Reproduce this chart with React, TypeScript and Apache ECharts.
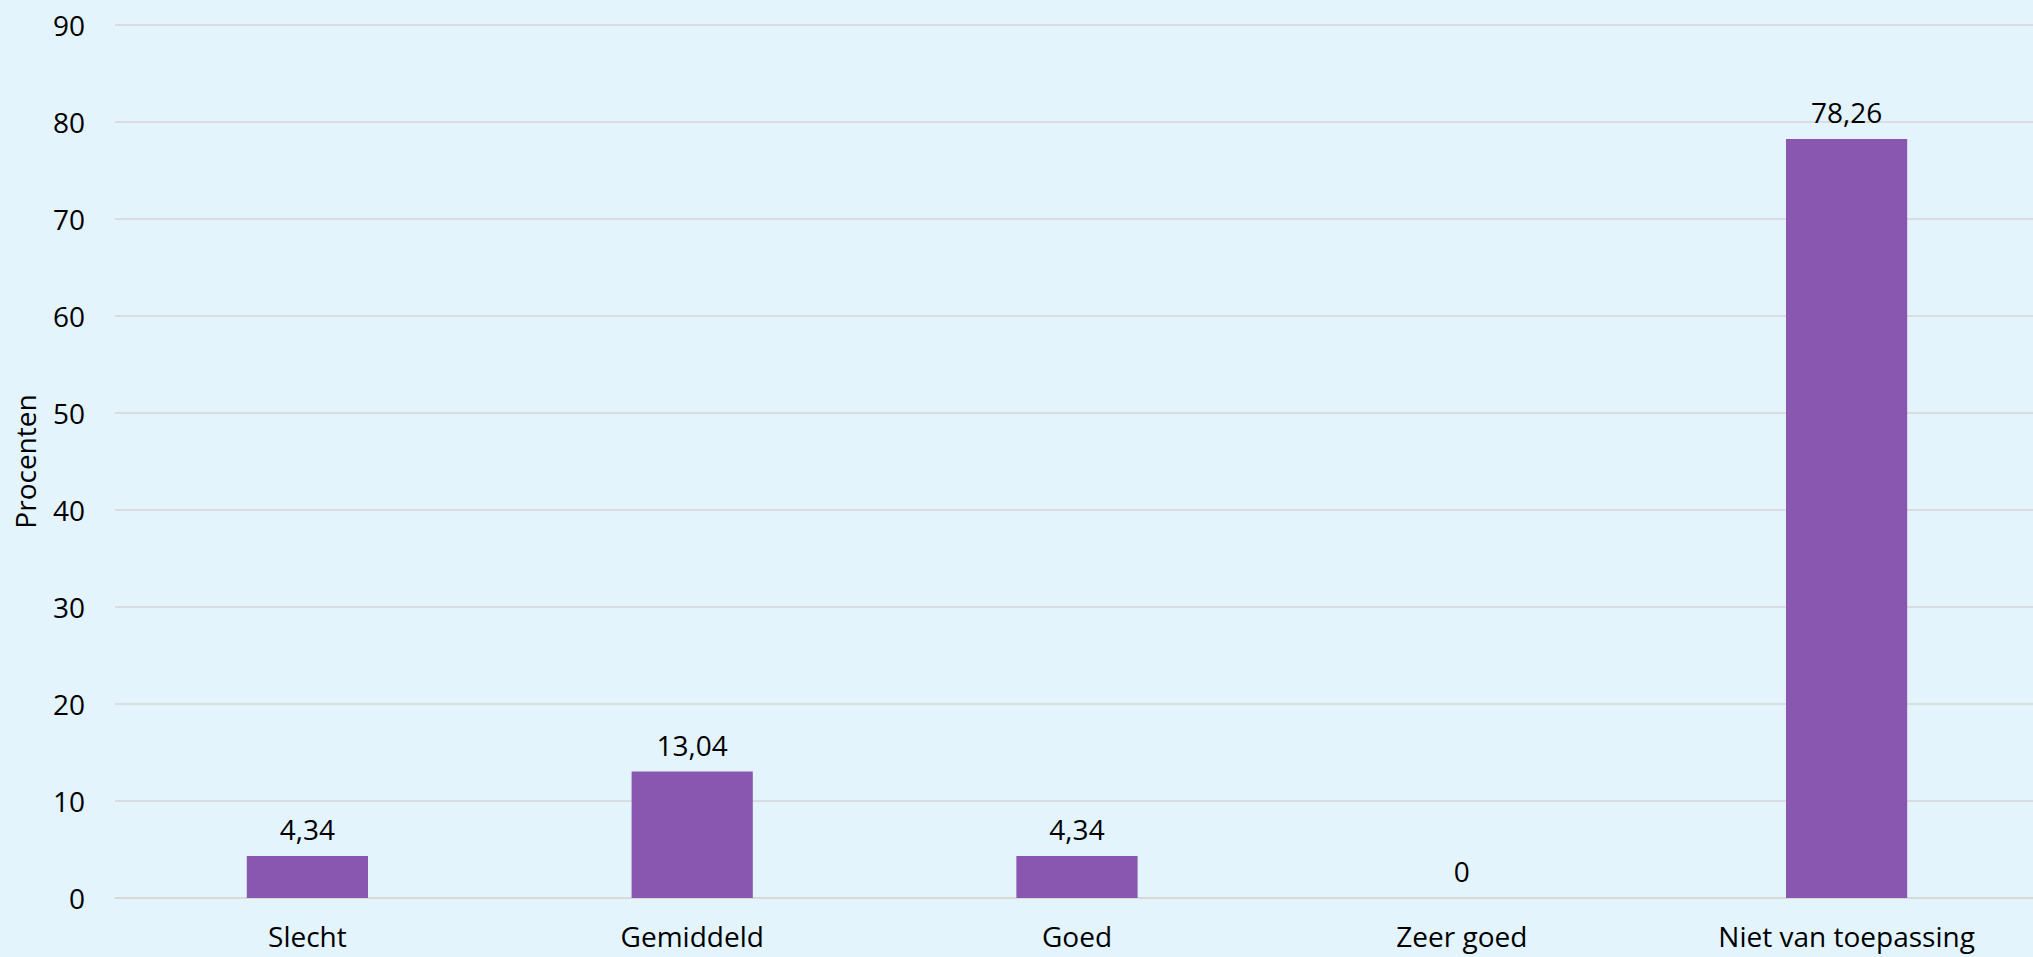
import React, { useEffect, useRef } from "react";
import * as echarts from "echarts";

const categories = ["Slecht", "Gemiddeld", "Goed", "Zeer goed", "Niet van toepassing"];
const percentages = [4.34, 13.04, 4.34, 0, 78.26];
const yAxisName = "Procenten";

const FONT = "'Open Sans', 'Noto Sans', sans-serif";
const TEXT = "#000000";

export default function App() {
  const ref = useRef<HTMLDivElement>(null);

  useEffect(() => {
    document.body.style.margin = "0";
    const chart = echarts.init(ref.current!, undefined, { renderer: "svg" });
    chart.setOption({
      animation: false,
      backgroundColor: "#E3F4FC",
      grid: {
        left: 115,
        right: -6,
        top: 25,
        bottom: 59,
        containLabel: false,
        outerBoundsMode: "none",
      },
      xAxis: {
        type: "category",
        data: categories,
        axisLine: { show: true, lineStyle: { color: "#D6D6D6", width: 1.5 } },
        axisTick: { show: false },
        axisLabel: {
          color: TEXT,
          fontFamily: FONT,
          fontSize: 28,
          margin: 24,
        },
      },
      yAxis: {
        type: "value",
        min: 0,
        max: 90,
        interval: 10,
        name: yAxisName,
        nameLocation: "middle",
        nameGap: 76,
        nameRotate: 90,
        nameTextStyle: { color: TEXT, fontFamily: FONT, fontSize: 28 },
        axisLine: { show: false },
        axisTick: { show: false },
        splitLine: { lineStyle: { color: "#D6D6D6", width: 1.5 } },
        axisLabel: {
          color: TEXT,
          fontFamily: FONT,
          fontSize: 28,
          margin: 30,
        },
      },
      series: [
        {
          type: "bar",
          data: percentages,
          barWidth: "31.5%",
          itemStyle: { color: "#8957AF" },
          label: {
            show: true,
            position: "top",
            distance: 13,
            color: TEXT,
            fontFamily: FONT,
            fontSize: 28,
            formatter: (p: any) => String(p.value).replace(".", ","),
          },
        },
      ],
    });
    return () => chart.dispose();
  }, []);

  return <div ref={ref} style={{ width: 2033, height: 957 }} />;
}
